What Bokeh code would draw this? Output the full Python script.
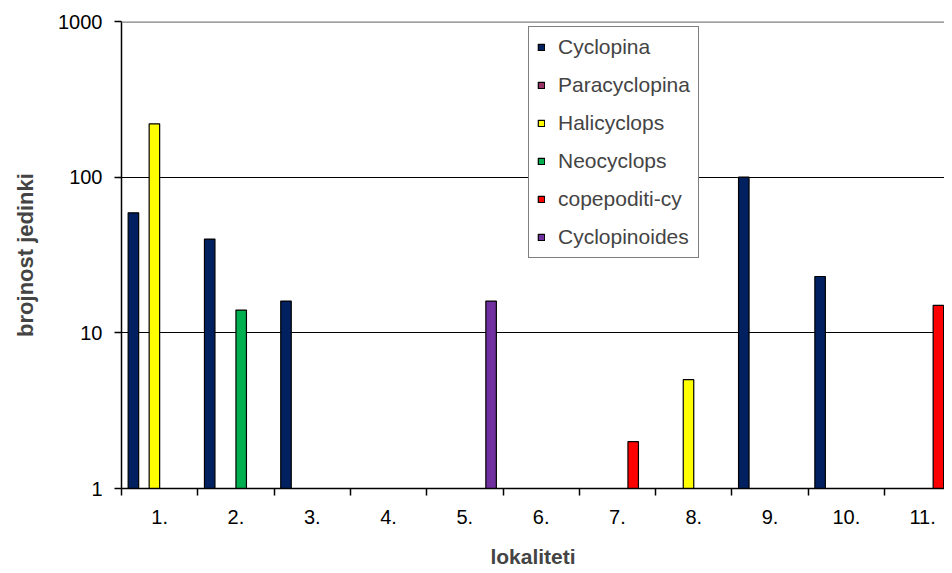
from bokeh.plotting import figure
from bokeh.models import (Range1d, FixedTicker, Span, Legend, LegendItem,
                          ColumnDataSource, NumeralTickFormatter)
from bokeh.embed import file_html
from bokeh.resources import INLINE

categories = ["1.", "2.", "3.", "4.", "5.", "6.", "7.", "8.", "9.", "10.", "11."]
series_names = ["Cyclopina", "Paracyclopina", "Halicyclops", "Neocyclops",
                "copepoditi-cy", "Cyclopinoides"]
cyclopina = [59, 40, 16, 0, 0, 0, 0, 0, 100, 23, 0]
paracyclopina = [0, 0, 0, 0, 0, 0, 0, 0, 0, 0, 0]
halicyclops = [220, 0, 0, 0, 0, 0, 0, 5, 0, 0, 0]
neocyclops = [0, 14, 0, 0, 0, 0, 0, 0, 0, 0, 0]
copepoditi = [0, 0, 0, 0, 0, 0, 2, 0, 0, 0, 15]
cyclopinoides = [0, 0, 0, 0, 16, 0, 0, 0, 0, 0, 0]
y_ticks = [1, 10, 100, 1000]

series_values = [cyclopina, paracyclopina, halicyclops, neocyclops, copepoditi, cyclopinoides]
colors = ["#002060", "#993366", "#FFFF00", "#00B050", "#FF0000", "#7030A0"]

FONT = "Liberation Sans"
n = len(categories)
cat_px = 76.3
bar_w = 10.5 / cat_px
frame_w = 823
x_end = -0.5 + frame_w / cat_px

p = figure(frame_width=frame_w, frame_height=467, y_axis_type="log",
           x_range=Range1d(-0.5, x_end), y_range=Range1d(1, 1000),
           output_backend="svg", toolbar_location=None,
           min_border_left=121, min_border_top=21, min_border_right=0,
           min_border_bottom=0)
p.outline_line_color = None
p.background_fill_color = "white"
p.border_fill_color = "white"

items = []
for i, (name, vals, col) in enumerate(zip(series_names, series_values, colors)):
    xs = [j + (i - 2.5) * bar_w for j in range(n)]
    tops = [v if v > 0 else float("nan") for v in vals]
    src = ColumnDataSource(dict(x=xs, top=tops))
    r = p.vbar(x="x", top="top", bottom=1, width=bar_w, source=src,
               fill_color=col, line_color="black", line_width=1.2)
    items.append(LegendItem(label=name, renderers=[r]))

# grid
p.xgrid.visible = False
p.ygrid.ticker = FixedTicker(ticks=[10, 100])
p.ygrid.grid_line_color = "black"
p.ygrid.grid_line_width = 1.2

p.add_layout(Span(location=1000, dimension="width", line_color="#808080", line_width=2.5))

# x axis
xa = p.xaxis[0]
xa.ticker = FixedTicker(ticks=list(range(n)),
                        minor_ticks=[k - 0.5 for k in range(n + 1)])
xa.major_label_overrides = {k: categories[k] for k in range(n)}
xa.major_tick_out = 0
xa.major_tick_in = 0
xa.minor_tick_out = 7
xa.minor_tick_in = 0
xa.minor_tick_line_width = 1.5
xa.axis_line_width = 1.5
xa.major_label_text_font = FONT
xa.major_label_text_font_size = "20px"
xa.major_label_text_color = "black"
xa.major_label_standoff = 14
xa.axis_label = "lokaliteti"
xa.axis_label_text_font = FONT
xa.axis_label_text_font_size = "21px"
xa.axis_label_text_font_style = "bold"
xa.axis_label_standoff = 18

# y axis
ya = p.yaxis[0]
ya.ticker = FixedTicker(ticks=y_ticks)
ya.formatter = NumeralTickFormatter(format="0")
ya.minor_tick_line_color = None
ya.major_tick_out = 7
ya.major_tick_in = 0
ya.major_tick_line_width = 1.5
ya.axis_line_width = 1.5
ya.major_label_text_font = FONT
ya.major_label_text_font_size = "20px"
ya.major_label_text_color = "black"
ya.major_label_standoff = 12
ya.axis_label = "brojnost jedinki"
ya.axis_label_text_font = FONT
ya.axis_label_text_font_size = "22px"
ya.axis_label_text_font_style = "bold"
ya.axis_label_standoff = 17

legend = Legend(items=items, location=(407, 230),
                label_text_font=FONT, label_text_font_size="21px",
                glyph_width=8, glyph_height=8, label_standoff=13,
                label_height=24, spacing=14, padding=8, margin=0,
                border_line_color="black", border_line_width=1.2,
                background_fill_color="white", background_fill_alpha=1.0)
p.add_layout(legend)

open("out.html", "w").write(file_html(p, INLINE))
